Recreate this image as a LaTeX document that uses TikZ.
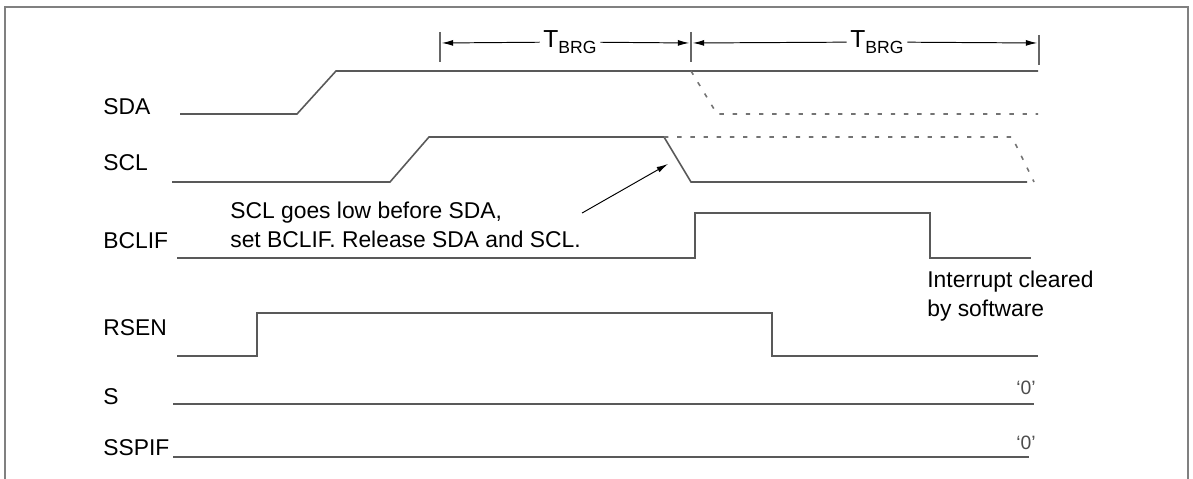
\documentclass[tikz,border=0pt]{standalone}
\usepackage{fontspec}
\setmainfont{Liberation Sans}
\usetikzlibrary{arrows.meta,positioning,calc}

\begin{document}
\begin{tikzpicture}[x=0.02cm,y=-0.02cm,
    wave/.style={draw=black!65, line width=0.9pt},
    ghost/.style={draw=black!55, line width=0.9pt, dash pattern=on 2.5pt off 5pt},
    lbl/.style={anchor=base west, inner sep=0pt, font=\fontsize{13}{16}\selectfont},
    dim/.style={-{Latex[length=6.5pt,width=3.4pt]}, line width=0.55pt, black},
    tick/.style={draw=black!60, line width=0.8pt},
    zero/.style={anchor=base east, inner sep=0pt, text=black!70, font=\fontsize{11}{13}\selectfont}]
\useasboundingbox (0,0) rectangle (1193,479);
% Frame
\draw[black!50, line width=1.1pt] (5,479) -- (5,7) -- (1188,7) -- (1188,479);

% Signal labels
\foreach \sig/\yy in {SDA/115, SCL/171, BCLIF/249, RSEN/336, S/404, SSPIF/455}
    \node[lbl] (\sig) at (103,\yy) {\sig};

% T_BRG intervals
\coordinate (k1) at (440,43);
\coordinate (k2) at (691,43);
\coordinate (k3) at (1039,43);
\draw[tick] (440,32) -- (440,62);
\draw[tick] (691,32) -- (691,62);
\draw[tick] (1039,35) -- (1039,65);
\node[inner xsep=2pt, font=\fontsize{14}{16}\selectfont] (tb1) at (570,42)
    {T\raisebox{-0.5ex}{\fontsize{10}{12}\selectfont BRG}};
\node[inner xsep=2pt, font=\fontsize{14}{16}\selectfont] (tb2) at (877,42)
    {T\raisebox{-0.5ex}{\fontsize{10}{12}\selectfont BRG}};
\draw[dim, shorten >=1pt] (tb1) -- (k1);
\draw[dim, shorten >=1pt] (tb1) -- (k2);
\draw[dim, shorten >=1pt] (tb2) -- (k2);
\draw[dim, shorten >=1pt] (tb2) -- (k3);

% SDA
\draw[wave] (180,114) -- (297,114) -- (336,71) -- (1038,71);
\draw[ghost] (691,71) -- (717,114) -- (1038,114);
% SCL
\draw[wave] (172,182) -- (390,182) -- (429,137) -- (664,137) -- (691,182) -- (1027,182);
\draw[ghost] (664,137) -- (1012,137) -- (1034,182);
% BCLIF
\draw[wave] (177,258) -- (695,258) -- (695,213) -- (930,213) -- (930,258) -- (1031,258);
% RSEN
\draw[wave] (177,356) -- (257,356) -- (257,313) -- (772,313) -- (772,356) -- (1038,356);
% S and SSPIF
\draw[wave] (173,404) -- (1034,404);
\draw[wave] (173,457) -- (1029,457);
\node[zero] (s0) at (1036,395) {‘0’};
\node[zero] (p0) at (1036,449) {‘0’};

% Notes
\node[anchor=north west, inner sep=0pt, align=left, font=\fontsize{13}{16}\selectfont] (note) at (230,202)
    {SCL goes low before SDA,\\set BCLIF. Release SDA and SCL.};
\coordinate (fall) at (668,164);
\draw[dim] ($(note.north east)+(1,11)$) -- (fall);
\node[anchor=north west, inner sep=0pt, align=left, font=\fontsize{13}{16}\selectfont] (clr) at (927,271)
    {Interrupt cleared\\by software};
\end{tikzpicture}
\end{document}
